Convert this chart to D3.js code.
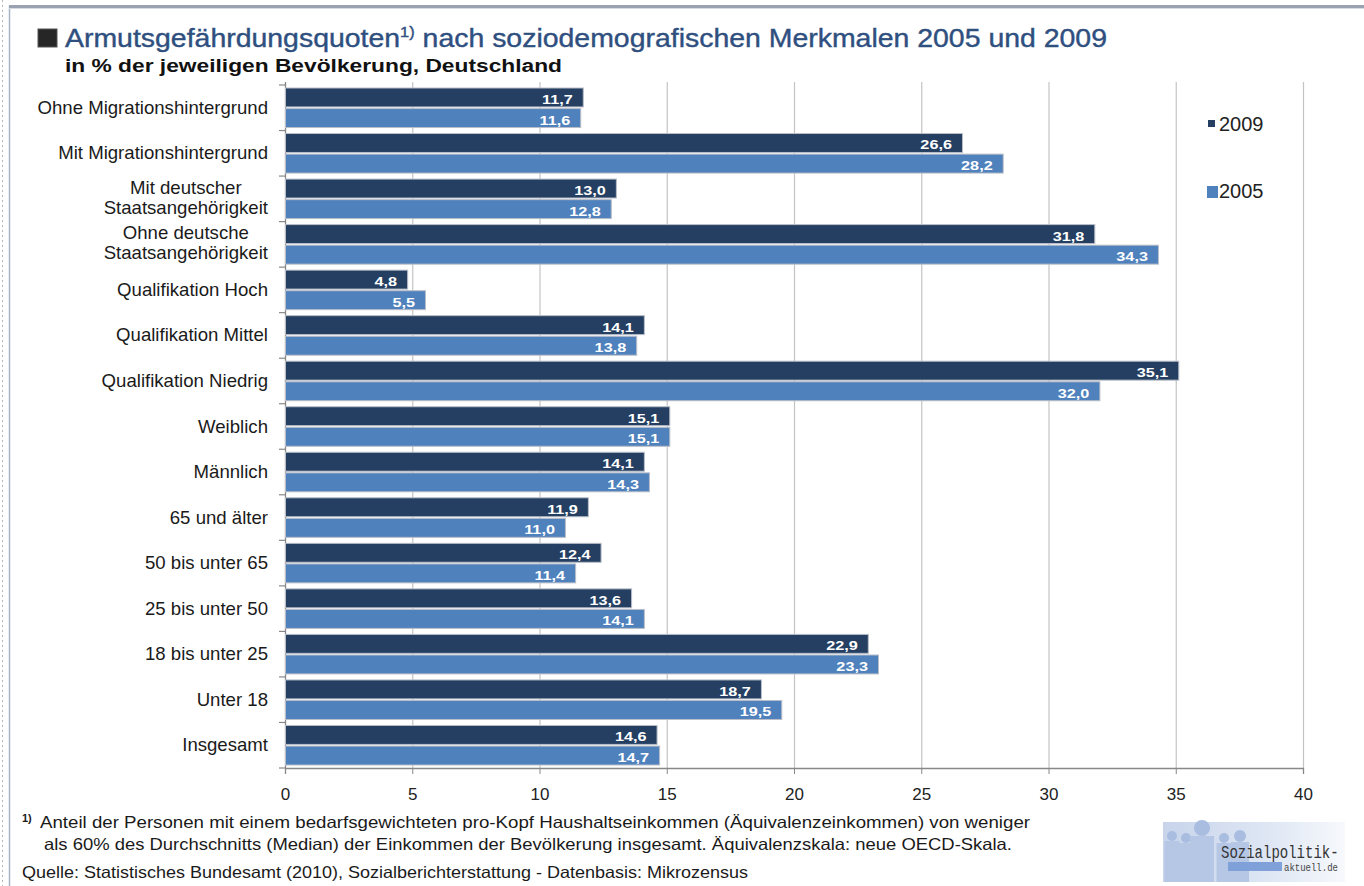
<!DOCTYPE html>
<html><head><meta charset="utf-8">
<script src="https://cdn.jsdelivr.net/npm/d3@7"></script>
<style>
body{margin:0;background:#fff}
svg{display:block;font-family:"Liberation Sans",Arial,Helvetica,sans-serif}
</style>
</head><body>
<svg id="c" width="1364" height="886"></svg>
<script>
// ---- data ----
const categories = [
  "Ohne Migrationshintergrund",
  "Mit Migrationshintergrund",
  "Mit deutscher\nStaatsangehörigkeit",
  "Ohne deutsche\nStaatsangehörigkeit",
  "Qualifikation Hoch",
  "Qualifikation Mittel",
  "Qualifikation Niedrig",
  "Weiblich",
  "Männlich",
  "65 und älter",
  "50 bis unter 65",
  "25 bis unter 50",
  "18 bis unter 25",
  "Unter 18",
  "Insgesamt"
];
const values2009 = [11.7, 26.6, 13.0, 31.8, 4.8, 14.1, 35.1, 15.1, 14.1, 11.9, 12.4, 13.6, 22.9, 18.7, 14.6];
const values2005 = [11.6, 28.2, 12.8, 34.3, 5.5, 13.8, 32.0, 15.1, 14.3, 11.0, 11.4, 14.1, 23.3, 19.5, 14.7];
const seriesNames = ["2009", "2005"];
const xTicks = [0, 5, 10, 15, 20, 25, 30, 35, 40];
const titleText = "Armutsgefährdungsquoten";
const titleRest = " nach soziodemografischen Merkmalen 2005 und 2009";
const subtitleText = "in % der jeweiligen Bevölkerung, Deutschland";
const footLine1 = "Anteil der Personen mit einem bedarfsgewichteten pro-Kopf Haushaltseinkommen (Äquivalenzeinkommen) von weniger";
const footLine2 = "als 60% des Durchschnitts (Median) der Einkommen der Bevölkerung insgesamt. Äquivalenzskala: neue OECD-Skala.";
const sourceText = "Quelle: Statistisches Bundesamt (2010), Sozialberichterstattung - Datenbasis: Mikrozensus";

const colors = {"2009": "#243f62", "2005": "#4f81bd"};
const fmt = v => d3.format(".1f")(v).replace(".", ",");

const svg = d3.select("#c");

// ---- frame ----
svg.append("line").attr("x1", 2.5).attr("x2", 2.5).attr("y1", 0).attr("y2", 886)
  .attr("stroke", "#b5b5b5").attr("stroke-dasharray", "2,3");
svg.append("line").attr("x1", 9.5).attr("x2", 9.5).attr("y1", 6).attr("y2", 886)
  .attr("stroke", "#a9b4c8").attr("stroke-width", 1.5);
svg.append("rect").attr("x", 9).attr("y", 5).attr("width", 1355).attr("height", 3)
  .attr("fill", "#9aa2b2");
svg.append("rect").attr("x", 9).attr("y", 8).attr("width", 1355).attr("height", 1)
  .attr("fill", "#d6dbe4");

// ---- title ----
svg.append("rect").attr("x", 38).attr("y", 29).attr("width", 19).attr("height", 18)
  .attr("fill", "#262626").attr("stroke", "#555");
const t = svg.append("text").attr("x", 65).attr("y", 47)
  .attr("font-size", 26).attr("fill", "#2f4f7f")
  .attr("stroke", "#2f4f7f").attr("stroke-width", 0.4)
  .attr("textLength", 1042).attr("lengthAdjust", "spacingAndGlyphs");
t.append("tspan").text(titleText);
t.append("tspan").text("1)").attr("font-size", 15).attr("dy", -10);
t.append("tspan").text(titleRest).attr("dy", 10);
svg.append("text").attr("x", 65).attr("y", 72)
  .attr("font-size", 18).attr("font-weight", "bold").attr("fill", "#111")
  .attr("textLength", 497).attr("lengthAdjust", "spacingAndGlyphs")
  .text(subtitleText);

// ---- scales ----
const x = d3.scaleLinear().domain([0, 40]).range([285, 1303]);
const y0 = d3.scaleBand().domain(categories).range([85, 768]).paddingInner(0).paddingOuter(0);
const y1 = d3.scaleBand().domain(seriesNames).range([3, y0.bandwidth() - 3]).paddingInner(0.08);

// gridlines
svg.append("g").selectAll("line").data(xTicks.filter(d => d > 0)).join("line")
  .attr("x1", d => x(d) + 0.5).attr("x2", d => x(d) + 0.5)
  .attr("y1", 82).attr("y2", 768)
  .attr("stroke", "#c4c4c4").attr("stroke-width", 1.2);

// x axis
const xAxis = svg.append("g").attr("transform", "translate(0,768)")
  .call(d3.axisBottom(x).tickValues(xTicks).tickSize(6).tickPadding(14).tickFormat(d3.format("d")));
xAxis.select(".domain").attr("stroke", "#888").attr("stroke-width", 1.3);
xAxis.selectAll(".tick line").attr("stroke", "#888");
xAxis.selectAll("text").attr("font-size", 17).attr("fill", "#222")
  .attr("font-family", "Liberation Sans, Arial, sans-serif");

// y axis line and boundary ticks
svg.append("line").attr("x1", 285.5).attr("x2", 285.5).attr("y1", 82).attr("y2", 768)
  .attr("stroke", "#888").attr("stroke-width", 1.3);
const bounds = categories.map(c => y0(c)).concat([y0(categories[categories.length - 1]) + y0.bandwidth()]);
svg.append("g").selectAll("line").data(bounds).join("line")
  .attr("x1", 279).attr("x2", 285).attr("y1", d => d).attr("y2", d => d)
  .attr("stroke", "#888").attr("stroke-width", 1.2);

// ---- bars ----
const rows = categories.map((c, i) => ({cat: c, vals: [
  {s: "2009", v: values2009[i]}, {s: "2005", v: values2005[i]}]}));

const groups = svg.append("g").selectAll("g").data(rows).join("g")
  .attr("transform", d => `translate(0,${y0(d.cat)})`);

groups.selectAll("rect").data(d => d.vals).join("rect")
  .attr("x", x(0) + 0.5)
  .attr("y", d => y1(d.s))
  .attr("width", d => x(d.v) - x(0))
  .attr("height", y1.bandwidth())
  .attr("fill", d => colors[d.s])
  .attr("stroke", "#b9bec8").attr("stroke-width", 1);

groups.selectAll("text.val").data(d => d.vals).join("text")
  .attr("class", "val")
  .attr("transform", d => `translate(${x(d.v) - 10},${y1(d.s) + y1.bandwidth() - 3}) scale(1.3,1)`)
  .attr("text-anchor", "end")
  .attr("font-size", 12.5).attr("font-weight", "bold").attr("fill", "#fff")
  .text(d => fmt(d.v));

// ---- category labels ----
const labG = svg.append("g").attr("font-size", 18.6).attr("fill", "#1a1a1a");
rows.forEach(r => {
  const lines = r.cat.split("\n");
  const cy = y0(r.cat) + y0.bandwidth() / 2;
  if (lines.length === 1) {
    labG.append("text").attr("x", 268).attr("y", cy + 6).attr("text-anchor", "end").text(lines[0]);
  } else {
    const txts = lines.map((l, i) => labG.append("text").attr("y", cy - 5 + i * 20).attr("text-anchor", "middle").text(l));
    const maxW = d3.max(txts, s => s.node().getComputedTextLength());
    txts.forEach(s => s.attr("x", 268 - maxW / 2));
  }
});

// ---- legend ----
const leg = svg.append("g").attr("font-size", 20).attr("fill", "#222");
leg.append("rect").attr("x", 1208).attr("y", 120).attr("width", 7).attr("height", 7).attr("fill", colors["2009"]);
leg.append("text").attr("x", 1219).attr("y", 131).text(seriesNames[0]);
leg.append("rect").attr("x", 1207).attr("y", 186).attr("width", 11).attr("height", 12).attr("fill", colors["2005"]);
leg.append("text").attr("x", 1219).attr("y", 198).text(seriesNames[1]);

// ---- footnotes ----
const foot = svg.append("g").attr("font-size", 16.5).attr("fill", "#1a1a1a");
foot.append("text").attr("x", 22).attr("y", 822).attr("font-size", 11).attr("font-weight", "bold").text("1)");
foot.append("text").attr("x", 40).attr("y", 828)
  .attr("textLength", 990).attr("lengthAdjust", "spacingAndGlyphs").text(footLine1);
foot.append("text").attr("x", 44).attr("y", 850)
  .attr("textLength", 968).attr("lengthAdjust", "spacingAndGlyphs").text(footLine2);
foot.append("text").attr("x", 22).attr("y", 878)
  .attr("textLength", 726).attr("lengthAdjust", "spacingAndGlyphs").text(sourceText);

// ---- logo ----
const defs = svg.append("defs");
const lg = defs.append("linearGradient").attr("id", "lg").attr("x1", 0).attr("x2", 1).attr("y1", 0).attr("y2", 0);
lg.append("stop").attr("offset", 0).attr("stop-color", "#c7d4ea");
lg.append("stop").attr("offset", 0.6).attr("stop-color", "#dfe7f4");
lg.append("stop").attr("offset", 1).attr("stop-color", "#f7f9fc");
const logo = svg.append("g");
logo.append("rect").attr("x", 1163).attr("y", 822).attr("width", 182).attr("height", 60).attr("fill", "url(#lg)");
[[1172, 836, 5], [1186, 838, 5], [1202, 828, 8], [1224, 838, 5], [1240, 836, 6]].forEach(([cx, cy, r]) => {
  logo.append("circle").attr("cx", cx).attr("cy", cy).attr("r", r).attr("fill", "#a9bde0");
  logo.append("rect").attr("x", cx - r * 1.5).attr("y", cy + r).attr("width", r * 3).attr("height", 882 - cy - r).attr("fill", "#b6c7e6");
});
logo.append("rect").attr("x", 1228).attr("y", 862).attr("width", 54).attr("height", 9).attr("fill", "#7fa0d8");
logo.append("text").attr("transform", "translate(1221,858) scale(1,1.35)")
  .attr("font-family", "Liberation Mono, DejaVu Sans Mono, monospace")
  .attr("font-size", 14).attr("fill", "#333").text("Sozialpolitik-");
logo.append("text").attr("transform", "translate(1284,871) scale(1,1.15)")
  .attr("font-family", "Liberation Mono, DejaVu Sans Mono, monospace")
  .attr("font-size", 9).attr("fill", "#444").text("aktuell.de");
</script>
</body></html>
